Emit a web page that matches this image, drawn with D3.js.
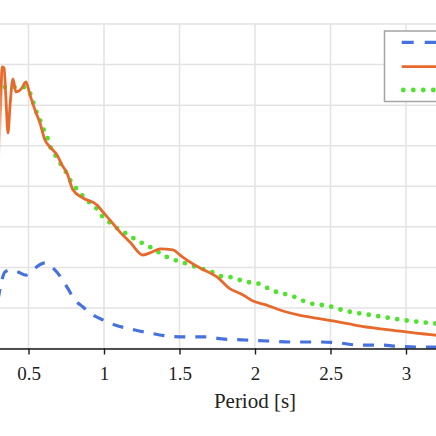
<!DOCTYPE html>
<html>
<head>
<meta charset="utf-8">
<script src="https://cdn.jsdelivr.net/npm/d3@7"></script>
<style>
  html, body { margin: 0; padding: 0; background: #fff; }
  svg { display: block; }
</style>
</head>
<body>
<svg id="chart" width="436" height="436"></svg>
<script>
// ---- data (period T [s], spectral value) ----
const xTicks = [0, 0.5, 1, 1.5, 2, 2.5, 3, 3.5, 4];
const xLabelTicks = [0.5, 1, 1.5, 2, 2.5, 3];
const yTicks = [0, 0.2, 0.4, 0.6, 0.8, 1.0, 1.2, 1.4, 1.6];

const recordedT = [0.298, 0.318, 0.344, 0.378, 0.431, 0.483, 0.523, 0.563, 0.609, 0.662, 0.722, 0.755, 0.808, 0.861, 0.927, 0.993, 1.073, 1.205, 1.305, 1.417, 1.536, 1.669, 1.782, 1.934, 2.086, 2.252, 2.431, 2.563, 2.682, 2.828, 2.960, 3.093, 3.225];
const recordedV = [0.239, 0.318, 0.377, 0.387, 0.377, 0.362, 0.382, 0.407, 0.422, 0.397, 0.343, 0.303, 0.239, 0.205, 0.165, 0.141, 0.116, 0.091, 0.076, 0.062, 0.057, 0.057, 0.047, 0.042, 0.037, 0.032, 0.032, 0.027, 0.017, 0.017, 0.010, 0.007, 0.007];

const scaledT = [0.298, 0.315, 0.325, 0.338, 0.351, 0.364, 0.378, 0.397, 0.417, 0.437, 0.457, 0.483, 0.510, 0.543, 0.576, 0.609, 0.642, 0.689, 0.722, 0.755, 0.795, 0.861, 0.954, 0.993, 1.040, 1.106, 1.172, 1.258, 1.318, 1.371, 1.457, 1.503, 1.550, 1.636, 1.748, 1.828, 1.921, 1.987, 2.073, 2.185, 2.291, 2.404, 2.517, 2.623, 2.735, 2.848, 2.954, 3.066, 3.179, 3.291];
const scaledV = [0.856, 1.176, 1.388, 1.383, 1.225, 1.062, 1.201, 1.329, 1.265, 1.270, 1.285, 1.314, 1.250, 1.176, 1.112, 1.028, 0.994, 0.954, 0.905, 0.865, 0.781, 0.742, 0.708, 0.673, 0.633, 0.574, 0.525, 0.461, 0.476, 0.491, 0.486, 0.461, 0.436, 0.397, 0.353, 0.298, 0.264, 0.234, 0.215, 0.185, 0.165, 0.150, 0.136, 0.121, 0.106, 0.096, 0.086, 0.076, 0.067, 0.057];

const targetT = [0.344, 0.411, 0.477, 0.510, 0.530, 0.550, 0.576, 0.596, 0.623, 0.642, 0.676, 0.709, 0.748, 0.775, 0.808, 0.854, 0.901, 0.947, 0.987, 1.033, 1.086, 1.139, 1.192, 1.252, 1.305, 1.358, 1.417, 1.470, 1.530, 1.589, 1.656, 1.715, 1.768, 1.828, 1.947, 2.007, 2.126, 2.245, 2.358, 2.483, 2.603, 2.722, 2.854, 2.974, 3.093, 3.225];
const targetV = [1.289, 1.289, 1.289, 1.260, 1.216, 1.171, 1.127, 1.087, 1.043, 0.999, 0.954, 0.915, 0.870, 0.831, 0.797, 0.757, 0.722, 0.693, 0.653, 0.624, 0.594, 0.570, 0.545, 0.520, 0.500, 0.476, 0.451, 0.436, 0.422, 0.407, 0.392, 0.377, 0.357, 0.353, 0.328, 0.323, 0.283, 0.259, 0.224, 0.210, 0.185, 0.170, 0.155, 0.141, 0.131, 0.121];

const xLabel = "Period [s]";

// ---- layout ----
const svg = d3.select("#chart");
const plotLeft = -47, plotRight = 557, plotTop = 24, plotBottom = 348.5;

const x = d3.scaleLinear().domain([0, 4]).range([plotLeft, plotRight]);
const y = d3.scaleLinear().domain([0, 1.6]).range([plotBottom, plotTop]);

const colors = { rec: "#4672de", sca: "#e8692c", tar: "#4fe32e" };

// mask for the faded left edge of the scaled curve
const defs = svg.append("defs");
const grad = defs.append("linearGradient").attr("id", "fadeGrad")
  .attr("gradientUnits", "userSpaceOnUse").attr("x1", 0).attr("y1", 85).attr("x2", 0).attr("y2", 165);
grad.append("stop").attr("offset", 0).attr("stop-color", "#fff");
grad.append("stop").attr("offset", 1).attr("stop-color", "#000");
const mask = defs.append("mask").attr("id", "fadeMask").attr("maskUnits", "userSpaceOnUse")
  .attr("x", -100).attr("y", -100).attr("width", 800).attr("height", 800);
mask.append("rect").attr("x", -100).attr("y", -100).attr("width", 800).attr("height", 800).attr("fill", "#fff");
mask.append("rect").attr("x", -100).attr("y", 80).attr("width", 104.5).attr("height", 200).attr("fill", "url(#fadeGrad)");

// grid
const grid = svg.append("g").attr("stroke", "#e3e3e3").attr("stroke-width", 1.5);
grid.selectAll("line.v").data(xTicks).join("line")
  .attr("x1", d => x(d)).attr("x2", d => x(d)).attr("y1", plotTop).attr("y2", plotBottom);
grid.selectAll("line.h").data(yTicks).join("line")
  .attr("x1", plotLeft).attr("x2", plotRight).attr("y1", d => y(d)).attr("y2", d => y(d));

// lines
const line = d3.line().x(d => x(d[0])).y(d => y(d[1])).curve(d3.curveMonotoneX);
const zip = (a, b) => a.map((t, i) => [t, b[i]]);

svg.append("path").datum(zip(targetT, targetV)).attr("d", line)
  .attr("fill", "none").attr("stroke", colors.tar).attr("stroke-width", 4.8)
  .attr("stroke-linecap", "round").attr("stroke-dasharray", "0,9.6");

svg.append("path").datum(zip(scaledT, scaledV)).attr("d", line)
  .attr("fill", "none").attr("stroke", colors.sca).attr("stroke-width", 2.8)
  .attr("stroke-linejoin", "round").attr("mask", "url(#fadeMask)");

svg.append("path").datum(zip(recordedT, recordedV)).attr("d", line)
  .attr("fill", "none").attr("stroke", colors.rec).attr("stroke-width", 3.2)
  .attr("stroke-dasharray", "11,10");

// x axis (only the ticks inside the window carry labels)
const xAxis = svg.append("g").attr("transform", `translate(0,${plotBottom})`)
  .call(d3.axisBottom(x).tickValues(xTicks).tickSize(6).tickSizeOuter(0).tickPadding(12)
    .tickFormat(d => xLabelTicks.includes(d) ? String(d) : ""));
xAxis.select(".domain").attr("stroke", "#1a1a1a").attr("stroke-width", 1.6);
xAxis.selectAll(".tick line").attr("stroke", "#1a1a1a").attr("stroke-width", 1.4);
xAxis.selectAll(".tick text").attr("font-family", "'Liberation Serif', 'DejaVu Serif', serif")
  .attr("font-size", 19).attr("fill", "#222");
xAxis.selectAll(".tick text").filter(d => !xLabelTicks.includes(d)).remove();

// y axis line (lies left of the visible window)
const yAxis = svg.append("g").attr("transform", `translate(${plotLeft},0)`)
  .call(d3.axisLeft(y).tickValues(yTicks).tickSize(6).tickSizeOuter(0).tickFormat(""));
yAxis.select(".domain").attr("stroke", "#1a1a1a").attr("stroke-width", 1.6);
yAxis.selectAll(".tick text").remove();

svg.append("text").attr("x", x(2)).attr("y", 408).attr("text-anchor", "middle")
  .attr("font-family", "'Liberation Serif', 'DejaVu Serif', serif").attr("font-size", 21).attr("fill", "#222")
  .text(xLabel);

// legend (its labels lie beyond the right edge of the window)
const lg = svg.append("g");
lg.append("rect").attr("x", 384.5).attr("y", 31).attr("width", 165).attr("height", 70.5)
  .attr("fill", "#fff").attr("stroke", "#a4a4a4").attr("stroke-width", 1.5);
const legendItems = [
  { color: colors.rec, w: 3.2, dash: "12,11", cap: "butt", y: 42.3, x0: 401.7 },
  { color: colors.sca, w: 2.8, dash: null, cap: "butt", y: 66.7, x0: 401.7 },
  { color: colors.tar, w: 4.8, dash: "0,10", cap: "round", y: 90, x0: 403.3 }
];
legendItems.forEach(it => {
  lg.append("line").attr("x1", it.x0).attr("x2", it.x0 + 46).attr("y1", it.y).attr("y2", it.y)
    .attr("stroke", it.color).attr("stroke-width", it.w).attr("stroke-linecap", it.cap)
    .attr("stroke-dasharray", it.dash);
});
</script>
</body>
</html>
